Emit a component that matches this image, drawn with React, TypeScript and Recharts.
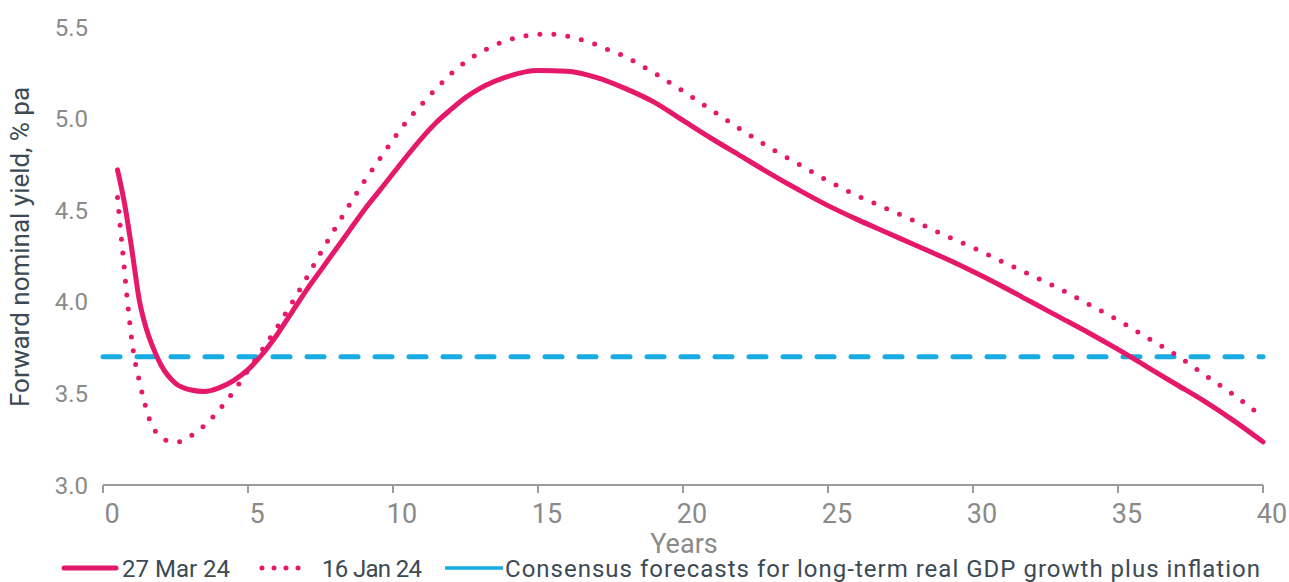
import React from "react";
import { LineChart, Line, XAxis, YAxis } from "recharts";

// ── Data ──────────────────────────────────────────────────────────────────────

const marYears = [
  0.5, 0.75, 1, 1.25, 1.5, 1.75, 2, 2.5, 3, 3.5, 4, 4.5, 5, 5.5, 6, 6.5, 7, 7.5, 8, 8.5, 9, 9.5,
  10, 10.5, 11, 11.5, 12, 12.5, 13, 14, 15, 16, 17, 18, 19, 20, 21, 22, 23, 24, 25, 26, 27,
  28, 29, 30, 31, 32, 33, 34, 35, 36, 37, 38, 39, 40,
];
const marValues = [
  4.72, 4.53, 4.28, 4.01, 3.85, 3.74, 3.655, 3.555, 3.52, 3.51, 3.53, 3.57, 3.63, 3.715, 3.82, 3.94,
  4.06, 4.17, 4.28, 4.39, 4.5, 4.6, 4.7, 4.8, 4.895, 4.98, 5.05, 5.115, 5.165, 5.232, 5.262,
  5.258, 5.225, 5.165, 5.09, 4.99, 4.89, 4.795, 4.7, 4.61, 4.525, 4.45, 4.38, 4.31, 4.24, 4.165,
  4.085, 4.0, 3.915, 3.83, 3.74, 3.645, 3.55, 3.455, 3.35, 3.235,
];

const janYears = [
  0.5, 0.6, 0.7, 0.8, 0.9, 1, 1.1, 1.25, 1.4, 1.6, 1.8, 2, 2.25, 2.5, 2.75, 3, 3.5, 4, 4.5, 5, 5.5,
  6, 6.5, 7, 7.5, 8, 8.5, 9, 9.5, 10, 10.5, 11, 11.5, 12, 12.5, 13, 13.5, 14, 14.5, 15, 15.5, 16,
  16.5, 17, 17.5, 18, 18.5, 19, 19.5, 20, 21, 22, 23, 24, 25, 26, 27, 28, 29, 30, 31, 32, 33, 34,
  35, 36, 37, 38, 39, 40,
];
const janValues = [
  4.57, 4.4, 4.24, 4.07, 3.92, 3.78, 3.68, 3.57, 3.47, 3.36, 3.295, 3.26, 3.24, 3.235, 3.24, 3.265,
  3.325, 3.41, 3.51, 3.625, 3.74, 3.86, 3.99, 4.125, 4.265, 4.4, 4.53, 4.655, 4.77, 4.885, 4.99,
  5.08, 5.165, 5.245, 5.31, 5.36, 5.4, 5.43, 5.45, 5.46, 5.46, 5.45, 5.43, 5.405, 5.37, 5.34,
  5.295, 5.25, 5.2, 5.15, 5.045, 4.94, 4.84, 4.75, 4.66, 4.58, 4.51, 4.44, 4.365, 4.295, 4.22,
  4.145, 4.07, 3.985, 3.9, 3.805, 3.71, 3.6, 3.49, 3.37,
];

const consensusYears = [0, 40];
const consensusValues = [3.7, 3.7];

const xTicks = [0, 5, 10, 15, 20, 25, 30, 35, 40];
const yTicks = [3.0, 3.5, 4.0, 4.5, 5.0, 5.5];

const SERIES_MAR = "27 Mar 24";
const SERIES_JAN = "16 Jan 24";
const SERIES_CONSENSUS = "Consensus forecasts for long-term real GDP growth plus inflation";

// ── Styles ────────────────────────────────────────────────────────────────────

const PINK = "#E6186A";
const BLUE = "#17ACE3";
const TICK_GREY = "#8A8A8A";
const AXIS_GREY = "#9C9C9C";
const TEXT_DARK = "#3C4A55";
const FONT = "Roboto, 'Noto Sans', sans-serif";

const toRows = (xs: number[], ys: number[]) => xs.map((year, i) => ({ year, value: ys[i] }));

const marData = toRows(marYears, marValues);
const janData = toRows(janYears, janValues);
const consensusData = toRows(consensusYears, consensusValues);

// x labels sit a little right of their tick marks, as in the source
function XTick({ x, y, payload }: { x?: number; y?: number; payload?: { value: number } }) {
  return (
    <text x={(x ?? 0) + 9} y={(y ?? 0) + 28} textAnchor="middle" fontSize={27} fill={TICK_GREY} fontFamily={FONT}>
      {payload?.value}
    </text>
  );
}

function YearsLabel({ viewBox }: { viewBox?: { x: number; y: number; width: number } }) {
  const vb = viewBox ?? { x: 0, y: 0, width: 0 };
  return (
    <text x={vb.x + vb.width / 2 + 1} y={553} textAnchor="middle" fontSize={27} fill={TICK_GREY} fontFamily={FONT}>
      Years
    </text>
  );
}

function YTitle() {
  return (
    <text transform="translate(29,247) rotate(-90)" textAnchor="middle" fontSize={26} fill={TEXT_DARK} fontFamily={FONT}>
      Forward nominal yield, % pa
    </text>
  );
}

// legend drawn as svg so each label can be fitted to the width it has in the source
function LegendRow() {
  const textProps = { y: 22, fontSize: 24, fill: TEXT_DARK, fontFamily: FONT, lengthAdjust: "spacing" as const };
  return (
    <svg style={{ position: "absolute", left: 0, top: 555 }} width={1289} height={27}>
      <line x1={64} y1={13} x2={116} y2={13} stroke={PINK} strokeWidth={5} strokeLinecap="round" />
      <text x={122} textLength={108} {...textProps}>{SERIES_MAR}</text>

      <line x1={262} y1={13} x2={310} y2={13} stroke={PINK} strokeWidth={5} strokeLinecap="round" strokeDasharray="0 12" />
      <text x={322} textLength={100} {...textProps}>{SERIES_JAN}</text>

      <line x1={445} y1={13} x2={503} y2={13} stroke={BLUE} strokeWidth={3.5} />
      <text x={505} textLength={755} {...textProps}>{SERIES_CONSENSUS}</text>
    </svg>
  );
}

export default function App() {
  return (
    <div style={{ position: "absolute", left: 0, top: 0, width: 1289, height: 582, background: "#fff" }}>
      <LineChart width={1289} height={582} margin={{ top: 27, right: 26, bottom: 37, left: 23 }}>
        <XAxis
          dataKey="year"
          type="number"
          domain={[0, 40]}
          ticks={xTicks}
          allowDuplicatedCategory={false}
          height={60}
          axisLine={{ stroke: AXIS_GREY, strokeWidth: 2 }}
          tickLine={{ stroke: AXIS_GREY, strokeWidth: 2 }}
          tickSize={8}
          tick={<XTick />}
          label={<YearsLabel />}
        />
        <YAxis
          type="number"
          domain={[3, 5.5]}
          ticks={yTicks}
          width={80}
          axisLine={false}
          tickLine={false}
          tickMargin={9}
          tickFormatter={(v: number) => v.toFixed(1)}
          tick={{ fontSize: 24, fill: TICK_GREY, fontFamily: FONT }}
          label={<YTitle />}
        />

        <Line
          data={consensusData}
          dataKey="value"
          name={SERIES_CONSENSUS}
          type="linear"
          stroke={BLUE}
          strokeWidth={5}
          strokeDasharray="17 17"
          strokeLinecap="round"
          dot={false}
          activeDot={false}
          isAnimationActive={false}
        />
        <Line
          data={janData}
          dataKey="value"
          name={SERIES_JAN}
          type="monotone"
          stroke={PINK}
          strokeWidth={5}
          strokeDasharray="0 14"
          strokeLinecap="round"
          dot={false}
          activeDot={false}
          isAnimationActive={false}
        />
        <Line
          data={marData}
          dataKey="value"
          name={SERIES_MAR}
          type="monotone"
          stroke={PINK}
          strokeWidth={5}
          strokeLinecap="round"
          dot={false}
          activeDot={false}
          isAnimationActive={false}
        />
      </LineChart>
      <LegendRow />
    </div>
  );
}
